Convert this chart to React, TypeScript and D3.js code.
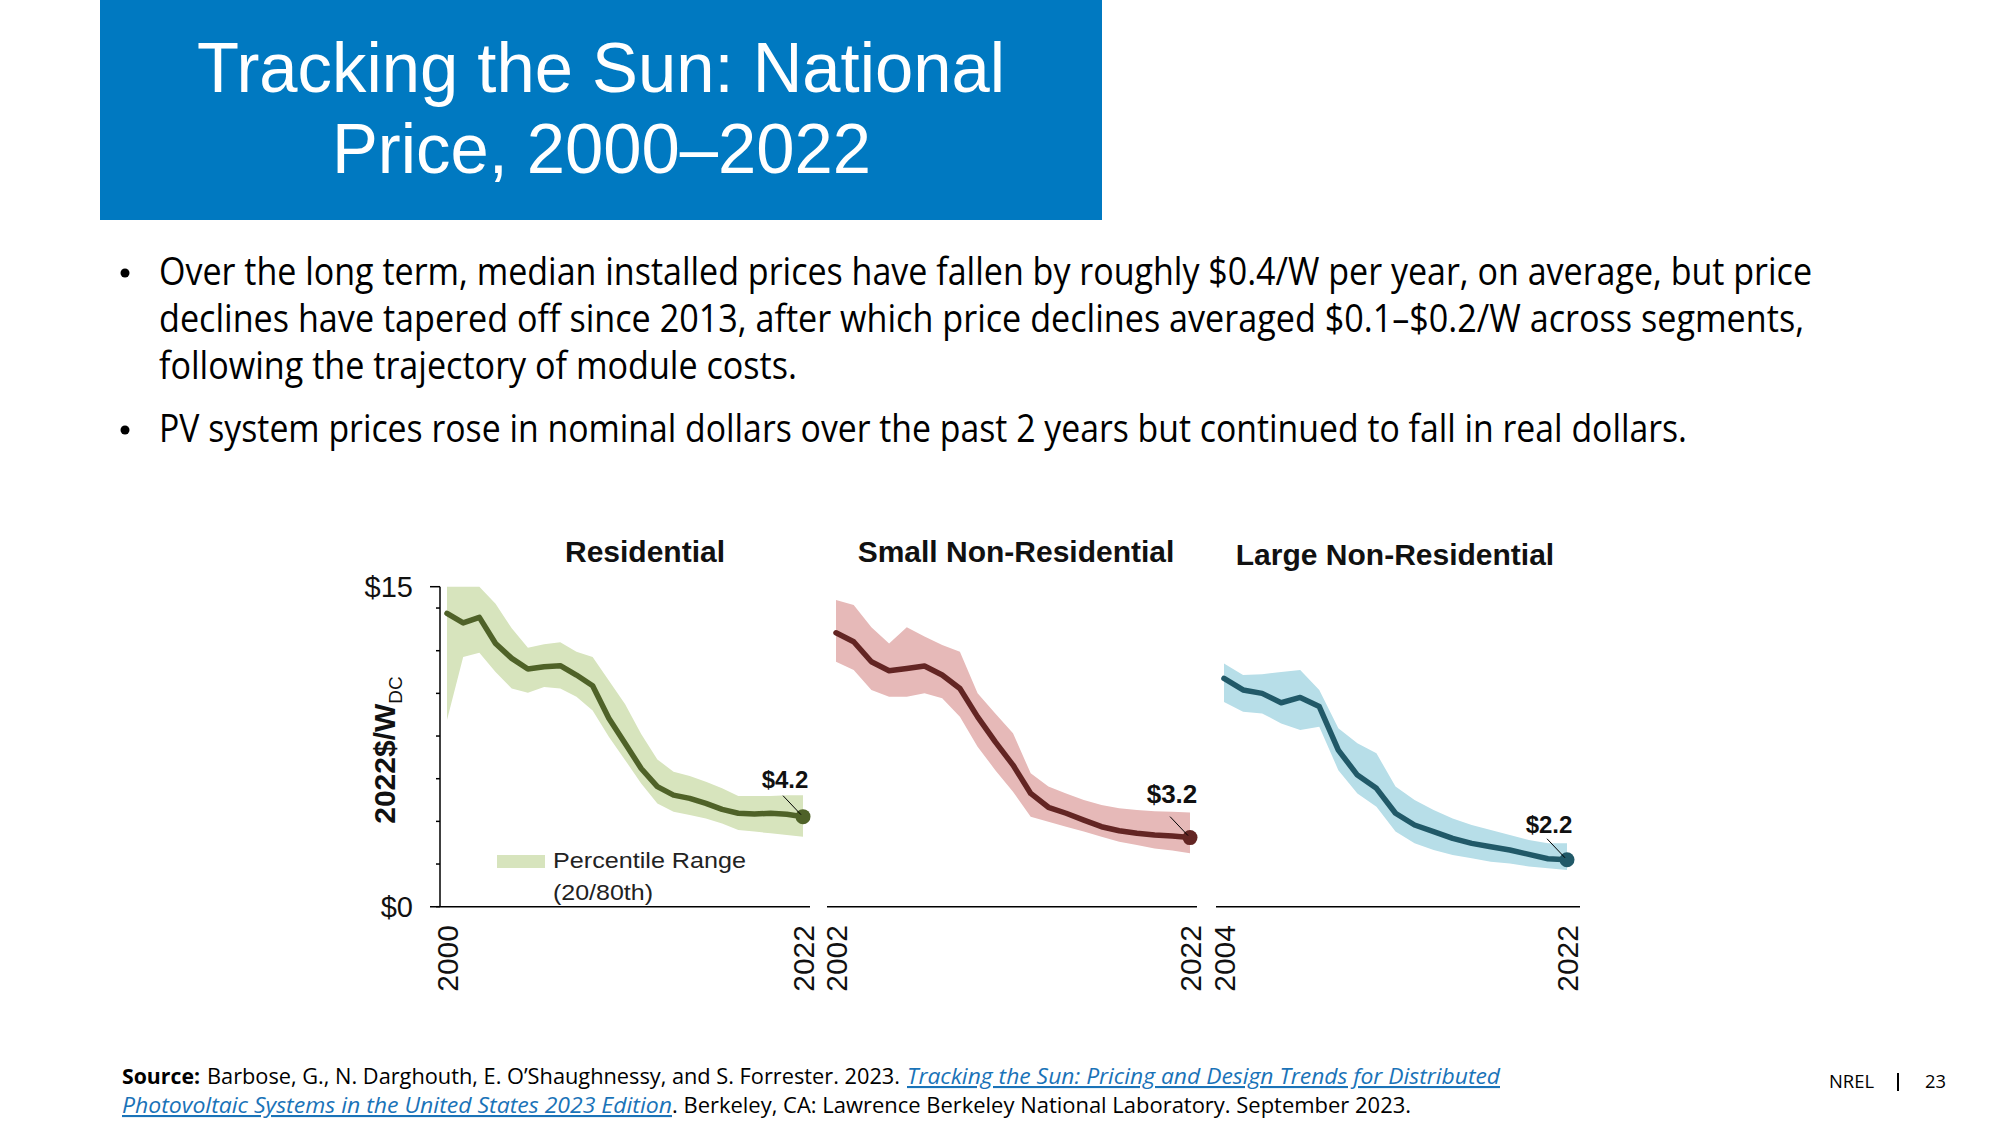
import React from "react";
import * as d3 from "d3";

// ---------- DATA ----------
const resYears = [2000, 2001, 2002, 2003, 2004, 2005, 2006, 2007, 2008, 2009, 2010, 2011, 2012, 2013, 2014, 2015, 2016, 2017, 2018, 2019, 2020, 2021, 2022];
const resMedian = [13.75, 13.3, 13.56, 12.34, 11.64, 11.14, 11.25, 11.3, 10.86, 10.36, 8.83, 7.66, 6.48, 5.63, 5.23, 5.08, 4.84, 4.56, 4.38, 4.34, 4.38, 4.33, 4.22];
const resP80 = [15, 15, 15, 14.2, 13.05, 12.14, 12.3, 12.4, 11.95, 11.7, 10.6, 9.5, 8.1, 6.9, 6.33, 6.13, 5.86, 5.55, 5.19, 5.19, 5.19, 5.22, 5.23];
const resP20 = [8.75, 11.7, 11.9, 11.0, 10.23, 10.03, 10.3, 10.23, 9.84, 9.2, 7.97, 6.88, 5.78, 4.84, 4.45, 4.3, 4.14, 3.9, 3.6, 3.52, 3.44, 3.36, 3.28];

const smallYears = [2002, 2003, 2004, 2005, 2006, 2007, 2008, 2009, 2010, 2011, 2012, 2013, 2014, 2015, 2016, 2017, 2018, 2019, 2020, 2021, 2022];
const smallMedian = [12.84, 12.42, 11.48, 11.06, 11.17, 11.28, 10.86, 10.23, 8.9, 7.73, 6.64, 5.31, 4.66, 4.38, 4.06, 3.75, 3.56, 3.44, 3.36, 3.31, 3.24];
const smallP80 = [14.38, 14.14, 13.1, 12.34, 13.1, 12.66, 12.27, 11.95, 10.0, 9.06, 8.13, 6.25, 5.63, 5.31, 5.0, 4.77, 4.61, 4.53, 4.48, 4.45, 4.42];
const smallP20 = [11.48, 11.09, 10.16, 9.84, 9.84, 10.0, 9.77, 8.9, 7.5, 6.4, 5.39, 4.22, 3.98, 3.75, 3.52, 3.28, 3.05, 2.89, 2.73, 2.63, 2.5];

const largeYears = [2004, 2005, 2006, 2007, 2008, 2009, 2010, 2011, 2012, 2013, 2014, 2015, 2016, 2017, 2018, 2019, 2020, 2021, 2022];
const largeMedian = [10.7, 10.16, 10.0, 9.56, 9.81, 9.38, 7.34, 6.17, 5.55, 4.38, 3.83, 3.52, 3.2, 2.97, 2.81, 2.66, 2.45, 2.25, 2.2];
const largeP80 = [11.4, 10.86, 10.9, 11.0, 11.1, 10.16, 8.36, 7.66, 7.19, 5.63, 5.0, 4.53, 4.14, 3.83, 3.59, 3.36, 3.13, 2.97, 2.97];
const largeP20 = [9.6, 9.14, 9.06, 8.59, 8.28, 8.44, 6.4, 5.31, 4.69, 3.52, 2.97, 2.66, 2.42, 2.27, 2.11, 2.03, 1.88, 1.8, 1.72];

const segmentTitles = ["Residential", "Small Non-Residential", "Large Non-Residential"];
const yMinorTicks = [0, 2, 4, 6, 8, 10, 12, 14, 15];
const yLabeledTicks = [0, 15];
const legendLines = ["Percentile Range", "(20/80th)"];

const titleLines = ["Tracking the Sun: National", "Price, 2000\u20132022"];
const bulletLines = [
  "Over the long term, median installed prices have fallen by roughly $0.4/W per year, on average, but price",
  "declines have tapered off since 2013, after which price declines averaged $0.1\u2013$0.2/W across segments,",
  "following the trajectory of module costs.",
  "PV system prices rose in nominal dollars over the past 2 years but continued to fall in real dollars.",
];

// ---------- LAYOUT ----------
const slideFont = "'Open Sans', 'Noto Sans', sans-serif";
const titleFont = "'Liberation Sans Narrow', 'Liberation Sans', Arial, sans-serif";
const chartFont = "'Liberation Sans', Arial, sans-serif";

const panels = [
  { title: segmentTitles[0], years: resYears, median: resMedian, p80: resP80, p20: resP20, band: "#d7e4bd", line: "#4f6228", px0: 447, px1: 803, ax0: 430, ax1: 810, titleX: 645, titleY: 562, labDy: -29, labFs: 24 },
  { title: segmentTitles[1], years: smallYears, median: smallMedian, p80: smallP80, p20: smallP20, band: "#e6b9b8", line: "#632523", px0: 836, px1: 1190, ax0: 827, ax1: 1197, titleX: 1016, titleY: 562, labDy: -35, labFs: 26 },
  { title: segmentTitles[2], years: largeYears, median: largeMedian, p80: largeP80, p20: largeP20, band: "#b7dee8", line: "#215968", px0: 1224, px1: 1567, ax0: 1216, ax1: 1580, titleX: 1395, titleY: 565, labDy: -27, labFs: 24 },
];

const yScale = d3.scaleLinear().domain([0, 15]).range([906.7, 586.7]);
const fmt = d3.format(".1f");

function Panel({ p }: { p: any }) {
  const years: number[] = p.years;
  const x = d3.scaleLinear().domain([years[0], years[years.length - 1]]).range([p.px0, p.px1]);
  const area = d3
    .area<number>()
    .x((_, i) => x(years[i]))
    .y0((_, i) => yScale(p.p20[i]))
    .y1((_, i) => yScale(p.p80[i]));
  const line = d3
    .line<number>()
    .x((_, i) => x(years[i]))
    .y((d) => yScale(d));
  const last = p.median.length - 1;
  const ex = x(years[last]);
  const ey = yScale(p.median[last]);
  const baseY = yScale(0);
  return (
    <g>
      <path d={area(p.median) || ""} fill={p.band} />
      <path d={line(p.median) || ""} fill="none" stroke={p.line} strokeWidth={5.5} strokeLinejoin="round" strokeLinecap="round" />
      <circle cx={ex} cy={ey} r={7.5} fill={p.line} />
      <line x1={ex - 20} y1={ey - 21} x2={ex - 2} y2={ey - 2} stroke="#000" strokeWidth={1} />
      <text x={ex - 18} y={ey + p.labDy} textAnchor="middle" fontFamily={chartFont} fontWeight="bold" fontSize={p.labFs} fill="#111">
        {"$" + fmt(p.median[last])}
      </text>
      <line x1={p.ax0} x2={p.ax1} y1={baseY} y2={baseY} stroke="#000" strokeWidth={1.5} />
      {[years[0], years[last]].map((yr) => (
        <text key={yr} transform={`translate(${x(yr)},925) rotate(-90)`} textAnchor="end" dy="0.36em" fontFamily={chartFont} fontSize={30} fill="#111">
          {yr}
        </text>
      ))}
      <text x={p.titleX} y={p.titleY} textAnchor="middle" fontFamily={chartFont} fontWeight="bold" fontSize={30} fill="#111">
        {p.title}
      </text>
    </g>
  );
}

export default function App() {
  const axisX = 440;
  const p0 = panels[0];
  return (
    <div style={{ position: "absolute", left: 0, top: 0, width: 2000, height: 1125, background: "#fff" }}>
      <svg width={2000} height={1125} viewBox="0 0 2000 1125" style={{ display: "block" }}>
        <rect x={0} y={0} width={2000} height={1125} fill="#fff" />
        {/* Title box */}
        <rect x={100} y={0} width={1002} height={220} fill="#0079c1" />
        <text x={197} y={92} fontFamily={titleFont} fontSize={71} fill="#fff" textLength={808} lengthAdjust="spacingAndGlyphs">
          {titleLines[0]}
        </text>
        <text x={332} y={173} fontFamily={titleFont} fontSize={71} fill="#fff" textLength={539} lengthAdjust="spacingAndGlyphs">
          {titleLines[1]}
        </text>

        {/* Bullets */}
        {[
          { t: bulletLines[0], y: 285, w: 1653, b: true },
          { t: bulletLines[1], y: 332, w: 1645, b: false },
          { t: bulletLines[2], y: 379, w: 638, b: false },
          { t: bulletLines[3], y: 442, w: 1528, b: true },
        ].map((l, i) => (
          <g key={i}>
            {l.b && <circle cx={125} cy={l.y - 12} r={4.5} fill="#000" />}
            <text x={159} y={l.y} fontFamily={slideFont} fontSize={37.5} fill="#000" textLength={l.w} lengthAdjust="spacingAndGlyphs">
              {l.t}
            </text>
          </g>
        ))}

        {/* Charts */}
        {panels.map((p, i) => (
          <Panel key={i} p={p} />
        ))}

        {/* Y axis on first panel */}
        <line x1={axisX} x2={axisX} y1={yScale(15)} y2={yScale(0)} stroke="#000" strokeWidth={1.5} />
        {yMinorTicks.map((v) => (
          <line key={v} x1={v === 15 ? axisX - 10 : axisX - 4} x2={axisX} y1={yScale(v)} y2={yScale(v)} stroke="#000" strokeWidth={1.5} />
        ))}
        {yLabeledTicks.map((v) => (
          <text key={v} x={413} y={yScale(v)} dy="0.36em" textAnchor="end" fontFamily={chartFont} fontSize={29} fill="#111">
            {"$" + v}
          </text>
        ))}
        <text transform="translate(395,750) rotate(-90)" textAnchor="middle" fontFamily={chartFont} fill="#111">
          <tspan fontWeight="bold" fontSize={30}>2022$/W</tspan>
          <tspan fontSize={19} dy={7}>DC</tspan>
        </text>

        {/* Legend */}
        <rect x={497} y={855} width={48} height={13} fill={p0.band} />
        <text x={553} y={868} fontFamily={chartFont} fontSize={22} fill="#222" textLength={193} lengthAdjust="spacingAndGlyphs">
          {legendLines[0]}
        </text>
        <text x={553} y={900} fontFamily={chartFont} fontSize={22} fill="#222" textLength={100} lengthAdjust="spacingAndGlyphs">
          {legendLines[1]}
        </text>

        {/* Footer */}
        <text x={122} y={1084} fontFamily={slideFont} fontSize={21} fontWeight="bold" fill="#000" textLength={78} lengthAdjust="spacingAndGlyphs">
          Source:
        </text>
        <text x={207} y={1084} fontFamily={slideFont} fontSize={21} fill="#000" textLength={693} lengthAdjust="spacingAndGlyphs">
          Barbose, G., N. Darghouth, E. O’Shaughnessy, and S. Forrester. 2023.
        </text>
        <text x={907} y={1084} fontFamily={slideFont} fontSize={21} fontStyle="italic" fill="#1a73b8" textLength={593} lengthAdjust="spacingAndGlyphs" style={{ textDecoration: "underline" }}>
          Tracking the Sun: Pricing and Design Trends for Distributed
        </text>
        <text x={122} y={1113} fontFamily={slideFont} fontSize={21} fontStyle="italic" fill="#1a73b8" textLength={550} lengthAdjust="spacingAndGlyphs" style={{ textDecoration: "underline" }}>
          Photovoltaic Systems in the United States 2023 Edition
        </text>
        <text x={672} y={1113} fontFamily={slideFont} fontSize={21} fill="#000" textLength={739} lengthAdjust="spacingAndGlyphs">
          . Berkeley, CA: Lawrence Berkeley National Laboratory. September 2023.
        </text>
        <text x={1829} y={1088} fontFamily={slideFont} fontSize={19} fill="#000" textLength={45} lengthAdjust="spacingAndGlyphs">
          NREL
        </text>
        <line x1={1898} x2={1898} y1={1073} y2={1091} stroke="#000" strokeWidth={2} />
        <text x={1925} y={1088} fontFamily={slideFont} fontSize={19} fill="#000" textLength={21} lengthAdjust="spacingAndGlyphs">
          23
        </text>
      </svg>
    </div>
  );
}
